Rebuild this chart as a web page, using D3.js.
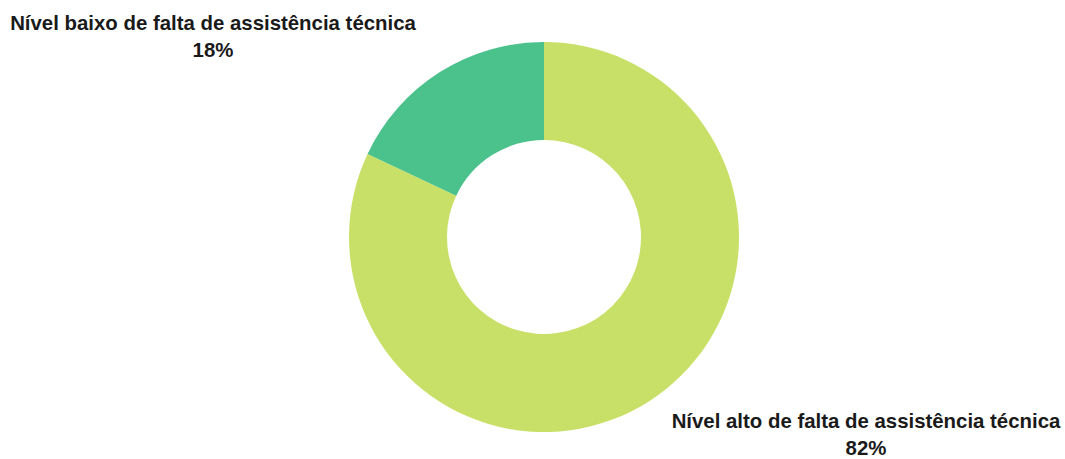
<!DOCTYPE html>
<html>
<head>
<meta charset="utf-8">
<script src="https://cdn.jsdelivr.net/npm/d3@7"></script>
<style>
  body { margin: 0; background: #fff; }
  text { font-family: "Liberation Sans", Arial, sans-serif; font-weight: bold; fill: #1a1a1a; }
</style>
</head>
<body>
<div class="chart"></div>
<script>
// Donut chart - falta de assistência técnica

var svgWidth = 1065;
var svgHeight = 459;

// data
var categories = ["Nível alto de falta de assistência técnica", "Nível baixo de falta de assistência técnica"];
var values = [82, 18];
var colors = ["#c8e068", "#4bc18b"];

var svg = d3.select(".chart")
  .append("svg")
  .attr("width", svgWidth)
  .attr("height", svgHeight);

var cx = 544, cy = 237;
var outerRadius = 195;
var innerRadius = 97;

var pie = d3.pie().sort(null).value(d => d.value);
var arc = d3.arc().innerRadius(innerRadius).outerRadius(outerRadius);

var data = categories.map((c, i) => ({ name: c, value: values[i], color: colors[i] }));

var chartGroup = svg.append("g")
  .attr("transform", `translate(${cx}, ${cy})`);

chartGroup.selectAll("path")
  .data(pie(data))
  .enter()
  .append("path")
  .attr("d", arc)
  .attr("fill", d => d.data.color);

// labels (positions)
var labelPos = [
  { x: 866, y: 428 },
  { x: 213, y: 30 }
];

var labels = svg.selectAll(".label")
  .data(data)
  .enter()
  .append("text")
  .attr("class", "label")
  .attr("text-anchor", "middle")
  .attr("font-size", "20.4px")
  .attr("x", (d, i) => labelPos[i].x)
  .attr("y", (d, i) => labelPos[i].y);

labels.append("tspan")
  .attr("x", (d, i) => labelPos[i].x)
  .text(d => d.name);

labels.append("tspan")
  .attr("x", (d, i) => labelPos[i].x)
  .attr("dy", 27)
  .text(d => d.value + "%");
</script>
</body>
</html>
